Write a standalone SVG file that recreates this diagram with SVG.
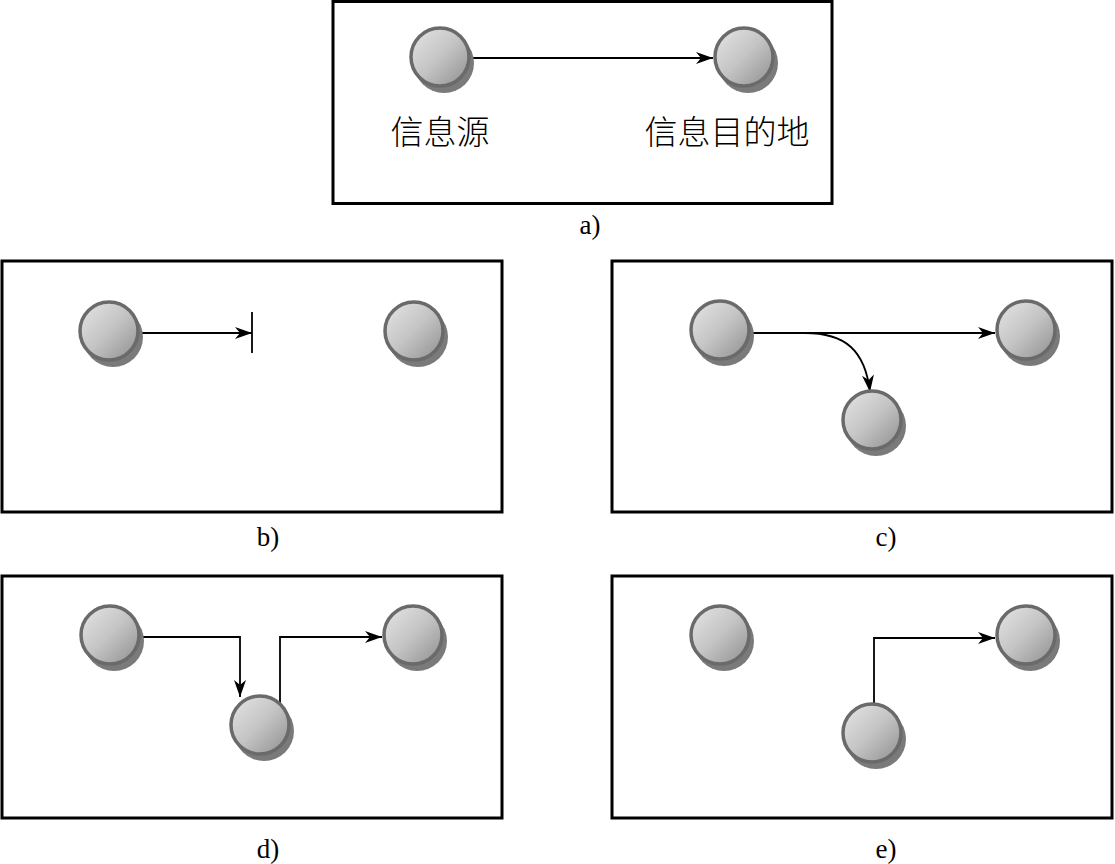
<svg xmlns="http://www.w3.org/2000/svg" width="1115" height="864" viewBox="0 0 1115 864">
<style>
.frame{fill:none;stroke:#000;stroke-width:3}
.shadow{fill:#7a7a7a}
.ball{fill:url(#g);stroke:#6a6a6a;stroke-width:3.5}
.conn{fill:none;stroke:#000;stroke-width:1.8}
.cap{font-family:"Liberation Serif",serif;font-size:27px;fill:#000}
.cjk{font-family:"Noto Sans CJK SC",sans-serif;font-size:33px;font-weight:300;fill:#000}
</style>
<defs>
<linearGradient id="g" x1="0" y1="0" x2="1" y2="1">
<stop offset="0" stop-color="#e6e6e6"/>
<stop offset="0.5" stop-color="#c4c4c4"/>
<stop offset="1" stop-color="#8e8e8e"/>
</linearGradient>
<marker id="arr" markerWidth="18" markerHeight="12" refX="17" refY="6" orient="auto" markerUnits="userSpaceOnUse">
<path d="M0,0 L17,6 L0,12 L5,6 z" fill="#000"/>
</marker>
<symbol id="node" overflow="visible">
<circle class="shadow" cx="4" cy="6" r="30"/>
<circle class="ball" cx="0" cy="0" r="29"/>
</symbol>
</defs>
<rect width="1115" height="864" fill="#fff"/>

<!-- frames -->
<rect class="frame" x="333" y="1.5" width="499" height="202"/>
<rect class="frame" x="2" y="261" width="500" height="251"/>
<rect class="frame" x="612" y="261" width="500" height="251"/>
<rect class="frame" x="2" y="576" width="500" height="242"/>
<rect class="frame" x="612" y="576" width="500" height="242"/>

<!-- captions -->
<text class="cap" x="590" y="234" text-anchor="middle">a)</text>
<text class="cap" x="268" y="546" text-anchor="middle">b)</text>
<text class="cap" x="886" y="546" text-anchor="middle">c)</text>
<text class="cap" x="268" y="858" text-anchor="middle">d)</text>
<text class="cap" x="886" y="858" text-anchor="middle">e)</text>

<!-- connectors -->
<g id="connectors">
<line class="conn" x1="470" y1="58" x2="713" y2="58" marker-end="url(#arr)"/>
<line class="conn" x1="139" y1="333" x2="252" y2="333" marker-end="url(#arr)"/>
<line class="conn" x1="252" y1="312" x2="252" y2="353" stroke-width="2"/>
<line class="conn" x1="750" y1="333" x2="995" y2="333" marker-end="url(#arr)"/>
<path class="conn" d="M805,333 C845,333 865,350 870,392" marker-end="url(#arr)"/>
<path class="conn" d="M140,637 H240 V697" marker-end="url(#arr)"/>
<path class="conn" d="M280,705 V637 H382" marker-end="url(#arr)"/>
<path class="conn" d="M874,705 V638 H995" marker-end="url(#arr)"/>
</g>

<!-- panel a -->
<g id="a-src"><use href="#node" x="440" y="57"/><text class="cjk" x="440" y="144" text-anchor="middle">信息源</text></g>
<g id="a-dst"><use href="#node" x="744" y="57"/><text class="cjk" x="727" y="144" text-anchor="middle">信息目的地</text></g>

<!-- panel b -->
<g id="b-src"><use href="#node" x="109" y="331"/></g>
<g id="b-dst"><use href="#node" x="414" y="331"/></g>

<!-- panel c -->
<g id="c-src"><use href="#node" x="720" y="330"/></g>
<g id="c-dst"><use href="#node" x="1026" y="330"/></g>
<g id="c-mid"><use href="#node" x="872" y="420"/></g>

<!-- panel d -->
<g id="d-src"><use href="#node" x="110" y="635"/></g>
<g id="d-mid"><use href="#node" x="260" y="725"/></g>
<g id="d-dst"><use href="#node" x="413" y="635"/></g>

<!-- panel e -->
<g id="e-src"><use href="#node" x="720" y="635"/></g>
<g id="e-mid"><use href="#node" x="872" y="733"/></g>
<g id="e-dst"><use href="#node" x="1026" y="635"/></g>
</svg>
